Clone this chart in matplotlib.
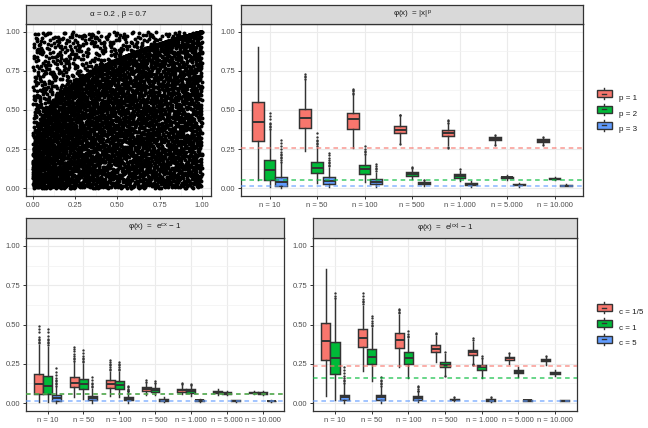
import numpy as np
import matplotlib
matplotlib.use('Agg')
import matplotlib.pyplot as plt
from matplotlib.patches import Rectangle
from matplotlib.lines import Line2D
from matplotlib.legend_handler import HandlerBase

plt.rcParams['font.family'] = ['Liberation Sans', 'DejaVu Sans']
plt.rcParams['mathtext.fontset'] = 'custom'
plt.rcParams['mathtext.rm'] = 'Liberation Sans'
plt.rcParams['mathtext.it'] = 'Liberation Sans:italic'

# ---- data ----
n_labels = ['n = 10', 'n = 50', 'n = 100', 'n = 500', 'n = 1.000', 'n = 5.000', 'n = 10.000']
p_labels = ['p = 1', 'p = 2', 'p = 3']
c_labels = ['c = 1/5', 'c = 1', 'c = 5']

# Marshall-Olkin copula sample, alpha = 0.2, beta = 0.7
alpha = 0.2
beta = 0.7
n_points = 6000

# box stats per n: [whislo, q1, med, q3, whishi]
pow_p1 = [[0.054, 0.301, 0.426, 0.553, 0.903], [0.237, 0.387, 0.452, 0.505, 0.69],
          [0.258, 0.381, 0.441, 0.48, 0.595], [0.29, 0.35, 0.374, 0.398, 0.46],
          [0.275, 0.333, 0.355, 0.37, 0.415], [0.285, 0.307, 0.316, 0.327, 0.335],
          [0.282, 0.295, 0.303, 0.312, 0.318]]
pow_p1_out = [[], [0.70, 0.71, 0.72, 0.73], [0.60, 0.61, 0.62, 0.63, 0.635], [0.465, 0.47, 0.285],
              [0.42, 0.43, 0.435, 0.265, 0.258], [0.343, 0.275], [0.325, 0.273]]
pow_p2 = [[0.01, 0.054, 0.114, 0.183, 0.37], [0.032, 0.097, 0.129, 0.166, 0.256],
          [0.037, 0.092, 0.125, 0.146, 0.21], [0.06, 0.075, 0.088, 0.101, 0.125],
          [0.045, 0.065, 0.08, 0.092, 0.11], [0.055, 0.063, 0.069, 0.073, 0.082],
          [0.05, 0.057, 0.06, 0.064, 0.07]]
pow_p2_out = [[0.38, 0.39, 0.40, 0.41, 0.42, 0.44, 0.46, 0.48], [0.27, 0.28, 0.29, 0.30, 0.31, 0.33, 0.35],
              [0.22, 0.23, 0.24, 0.25, 0.27], [0.13, 0.138], [0.12], [], []]
pow_p3 = [[0.003, 0.011, 0.037, 0.071, 0.16], [0.006, 0.026, 0.047, 0.069, 0.13],
          [0.01, 0.026, 0.041, 0.058, 0.1], [0.012, 0.025, 0.032, 0.038, 0.05],
          [0.006, 0.02, 0.026, 0.033, 0.045], [0.01, 0.018, 0.021, 0.024, 0.03],
          [0.011, 0.015, 0.017, 0.019, 0.024]]
pow_p3_out = [[0.17, 0.18, 0.19, 0.20, 0.21, 0.22, 0.23, 0.25, 0.27, 0.29, 0.305],
              [0.14, 0.15, 0.16, 0.17, 0.18, 0.19, 0.21, 0.225],
              [0.11, 0.12, 0.13, 0.14, 0.155], [0.055], [], [], []]
pow_ref = [0.256, 0.054, 0.015]

exp_c1 = [[0.006, 0.06, 0.119, 0.183, 0.37], [0.038, 0.102, 0.13, 0.166, 0.26],
          [0.045, 0.098, 0.123, 0.145, 0.2], [0.053, 0.074, 0.089, 0.102, 0.13],
          [0.055, 0.07, 0.081, 0.091, 0.115], [0.053, 0.063, 0.07, 0.077, 0.087],
          [0.055, 0.062, 0.066, 0.07, 0.078]]
exp_c1_out = [[0.38, 0.39, 0.40, 0.41, 0.42, 0.45, 0.47, 0.489], [0.27, 0.28, 0.29, 0.30, 0.31, 0.33, 0.345, 0.357],
              [0.21, 0.22, 0.23, 0.24, 0.25, 0.26, 0.272], [0.135, 0.145], [0.12, 0.128], [], []]
exp_c2 = [[0.006, 0.055, 0.111, 0.174, 0.36], [0.028, 0.091, 0.119, 0.155, 0.25],
          [0.04, 0.087, 0.115, 0.138, 0.2], [0.053, 0.07, 0.085, 0.096, 0.125],
          [0.045, 0.066, 0.077, 0.087, 0.108], [0.05, 0.06, 0.066, 0.071, 0.08],
          [0.053, 0.059, 0.064, 0.068, 0.075]]
exp_c2_out = [[0.37, 0.38, 0.39, 0.40, 0.41, 0.43, 0.45, 0.47], [0.26, 0.27, 0.28, 0.29, 0.30, 0.32, 0.34],
              [0.21, 0.22, 0.23, 0.24, 0.25, 0.262], [0.13, 0.14], [0.113, 0.12], [], []]
exp_c3 = [[0.001, 0.013, 0.032, 0.049, 0.1], [0.002, 0.017, 0.03, 0.045, 0.09],
          [0.004, 0.017, 0.028, 0.038, 0.07], [0.007, 0.016, 0.021, 0.028, 0.038],
          [0.008, 0.013, 0.017, 0.021, 0.028], [0.009, 0.012, 0.015, 0.018, 0.022],
          [0.01, 0.012, 0.013, 0.015, 0.018]]
exp_c3_out = [[0.11, 0.12, 0.13, 0.14, 0.15, 0.16, 0.18, 0.2, 0.226], [0.1, 0.11, 0.12, 0.13, 0.145, 0.166],
              [0.075, 0.08, 0.085, 0.09, 0.1, 0.106], [], [], [], []]
exp_ref = [0.057, 0.057, 0.013]

abs_c1 = [[0.043, 0.276, 0.393, 0.508, 0.853], [0.205, 0.356, 0.415, 0.469, 0.62],
          [0.231, 0.352, 0.40, 0.443, 0.56], [0.259, 0.324, 0.347, 0.367, 0.43],
          [0.24, 0.307, 0.326, 0.34, 0.39], [0.248, 0.274, 0.287, 0.296, 0.31],
          [0.244, 0.266, 0.274, 0.281, 0.292]]
abs_c1_out = [[], [0.63, 0.64, 0.65, 0.66, 0.68, 0.70], [0.57, 0.58, 0.59, 0.598], [0.437, 0.443],
              [0.40, 0.413, 0.25, 0.245], [0.32], [0.298]]
abs_c2 = [[0.022, 0.188, 0.285, 0.387, 0.66], [0.14, 0.248, 0.296, 0.343, 0.48],
          [0.162, 0.248, 0.287, 0.322, 0.41], [0.18, 0.227, 0.244, 0.259, 0.31],
          [0.162, 0.212, 0.227, 0.24, 0.28], [0.168, 0.19, 0.2, 0.212, 0.227],
          [0.17, 0.183, 0.19, 0.198, 0.21]]
abs_c2_out = [[0.67, 0.68, 0.70], [0.49, 0.50, 0.51, 0.52, 0.54, 0.553], [0.42, 0.43, 0.44, 0.458],
              [0.324, 0.173], [0.29, 0.302], [], []]
abs_c3 = [[0.0, 0.019, 0.041, 0.054, 0.12], [0.0, 0.02, 0.037, 0.05, 0.1],
          [0.006, 0.022, 0.032, 0.043, 0.07], [0.011, 0.017, 0.022, 0.028, 0.035],
          [0.009, 0.015, 0.019, 0.025, 0.032], [0.011, 0.015, 0.017, 0.019, 0.023],
          [0.011, 0.013, 0.015, 0.017, 0.02]]
abs_c3_out = [[0.13, 0.14, 0.15, 0.16, 0.17, 0.19, 0.21, 0.231], [0.11, 0.12, 0.13, 0.14, 0.15, 0.167],
              [0.075, 0.08, 0.09, 0.1, 0.108], [0.04], [0.036], [], []]
abs_ref = [0.235, 0.163, 0.012]

colors = ['#F8766D', '#00BA38', '#619CFF']
dark = '#333333'

W, H = 648, 428


def place(x0, y0, x1, y1):
    # pixel box (top-left origin) -> figure fraction
    return [x0 / W, 1 - y1 / H, (x1 - x0) / W, (y1 - y0) / H]


def halton(n, base):
    seq = np.zeros(n)
    for i in range(n):
        f, r, k = 1.0, 0.0, i + 1
        while k > 0:
            f /= base
            r += f * (k % base)
            k //= base
        seq[i] = r
    return seq


def style_panel(ax):
    ax.set_facecolor('white')
    for s in ax.spines.values():
        s.set_color(dark)
        s.set_linewidth(0.9)
    ax.tick_params(colors=dark, labelcolor='#4D4D4D', labelsize=5.5, length=2.5, width=0.7, pad=1.5)
    ax.grid(True, which='major', color='#EBEBEB', lw=0.8)
    ax.grid(True, which='minor', color='#F2F2F2', lw=0.5)
    ax.set_axisbelow(True)
    ax.tick_params(which='minor', length=0)


def strip(rect, text):
    sa = fig.add_axes(rect)
    sa.set_facecolor('#D9D9D9')
    sa.set_xticks([])
    sa.set_yticks([])
    for s in sa.spines.values():
        s.set_color(dark)
        s.set_linewidth(0.9)
    sa.text(0.5, 0.5, text, ha='center', va='center', fontsize=5.8, color='#1A1A1A',
            transform=sa.transAxes)


def box_panel(ax, series, outs, refs):
    for j, (arr, out) in enumerate(zip(series, outs)):
        stats = []
        for k, row in enumerate(arr):
            stats.append(dict(whislo=row[0], q1=row[1], med=row[2], q3=row[3],
                              whishi=row[4], fliers=out[k]))
        pos = [k + 1 + (j - 1) * 0.25 for k in range(len(arr))]
        ax.bxp(stats, positions=pos, widths=0.25, patch_artist=True, showcaps=False,
               manage_ticks=False,
               boxprops=dict(facecolor=colors[j], edgecolor=dark, linewidth=1.05),
               medianprops=dict(color=dark, linewidth=1.4),
               whiskerprops=dict(color=dark, linewidth=1.05),
               flierprops=dict(marker='o', markersize=1.7, markerfacecolor=dark,
                               markeredgecolor='none'))
    for j, v in enumerate(refs):
        ax.axhline(v, color=colors[j], ls=(0, (3, 2.5)), lw=1.1, alpha=0.75, zorder=4)
    ax.set_xlim(0.4, 7.6)
    ax.set_ylim(-0.05, 1.05)
    ax.set_xticks(range(1, len(n_labels) + 1))
    ax.set_xticklabels(n_labels)
    ax.set_yticks([0, 0.25, 0.5, 0.75, 1.0])
    ax.set_yticklabels(['0.00', '0.25', '0.50', '0.75', '1.00'])
    ax.set_yticks([0.125, 0.375, 0.625, 0.875], minor=True)


class BoxKey(HandlerBase):
    def create_artists(self, legend, orig, xd, yd, w, h, fontsize, trans):
        cx = xd + w / 2
        cy = yd + h / 2
        wl = Line2D([cx, cx], [yd - 0.15 * h, yd + 1.15 * h], color=dark, lw=1.0, transform=trans)
        rect = Rectangle((xd, yd + 0.1 * h), w, 0.8 * h, facecolor=orig.get_facecolor(),
                         edgecolor=dark, lw=1.0, transform=trans)
        med = Line2D([cx - 0.15 * w, cx + 0.15 * w], [cy, cy], color=dark, lw=1.0, transform=trans)
        return [wl, rect, med]


fig = plt.figure(figsize=(W / 100, H / 100), dpi=100)
fig.patch.set_facecolor('white')

# ---- top left: copula scatter ----
h1 = halton(n_points, 2)
h2 = halton(n_points, 3)
h3 = halton(n_points, 5)
u = np.maximum(h1 ** (1 / (1 - alpha)), h3 ** (1 / alpha))
v = np.maximum(h2 ** (1 / (1 - beta)), h3 ** (1 / beta))

ax0 = fig.add_axes(place(26, 24, 211, 196))
style_panel(ax0)
ax0.scatter(u, v, s=8, color='black', linewidths=0, zorder=2)
ax0.set_xlim(-0.041, 1.053)
ax0.set_ylim(-0.05, 1.05)
ticks = [0, 0.25, 0.5, 0.75, 1.0]
tlabs = ['0.00', '0.25', '0.50', '0.75', '1.00']
ax0.set_xticks(ticks)
ax0.set_xticklabels(tlabs)
ax0.set_yticks(ticks)
ax0.set_yticklabels(tlabs)
ax0.set_xticks([0.125, 0.375, 0.625, 0.875], minor=True)
ax0.set_yticks([0.125, 0.375, 0.625, 0.875], minor=True)
strip(place(26, 5, 211, 24), 'α = 0.2 , β = 0.7')

# ---- top right: |x|^p ----
ax1 = fig.add_axes(place(241, 24, 583, 196))
style_panel(ax1)
box_panel(ax1, [pow_p1, pow_p2, pow_p3], [pow_p1_out, pow_p2_out, pow_p3_out], pow_ref)
strip(place(241, 5, 583, 24), 'φ(x)  = |x|$^{\\mathrm{p}}$')

# ---- bottom left: e^{cx} - 1 ----
ax2 = fig.add_axes(place(26, 238, 284, 411))
style_panel(ax2)
box_panel(ax2, [exp_c1, exp_c2, exp_c3], [exp_c1_out, exp_c2_out, exp_c3_out], exp_ref)
strip(place(26, 218, 284, 238), 'φ(x)  =  e$^{\\mathrm{cx}}$ − 1')

# ---- bottom right: e^{|cx|} - 1 ----
ax3 = fig.add_axes(place(313, 238, 577, 411))
style_panel(ax3)
box_panel(ax3, [abs_c1, abs_c2, abs_c3], [abs_c1_out, abs_c2_out, abs_c3_out], abs_ref)
strip(place(313, 218, 577, 238), 'φ(x)  =  e$^{\\mathrm{|cx|}}$ − 1')

# ---- legends ----
for labels, yc in [(p_labels, 113), (c_labels, 327)]:
    handles = [Rectangle((0, 0), 1, 1, facecolor=c) for c in colors]
    fig.legend(handles, labels, loc='center left', bbox_to_anchor=(597 / W, 1 - yc / H),
               frameon=False, fontsize=5.8, handlelength=1.8, handleheight=1.3,
               labelspacing=0.85, handletextpad=0.9, borderpad=0, borderaxespad=0,
               handler_map={Rectangle: BoxKey()}, labelcolor='#1A1A1A')

fig.savefig('out.png', dpi=100)
